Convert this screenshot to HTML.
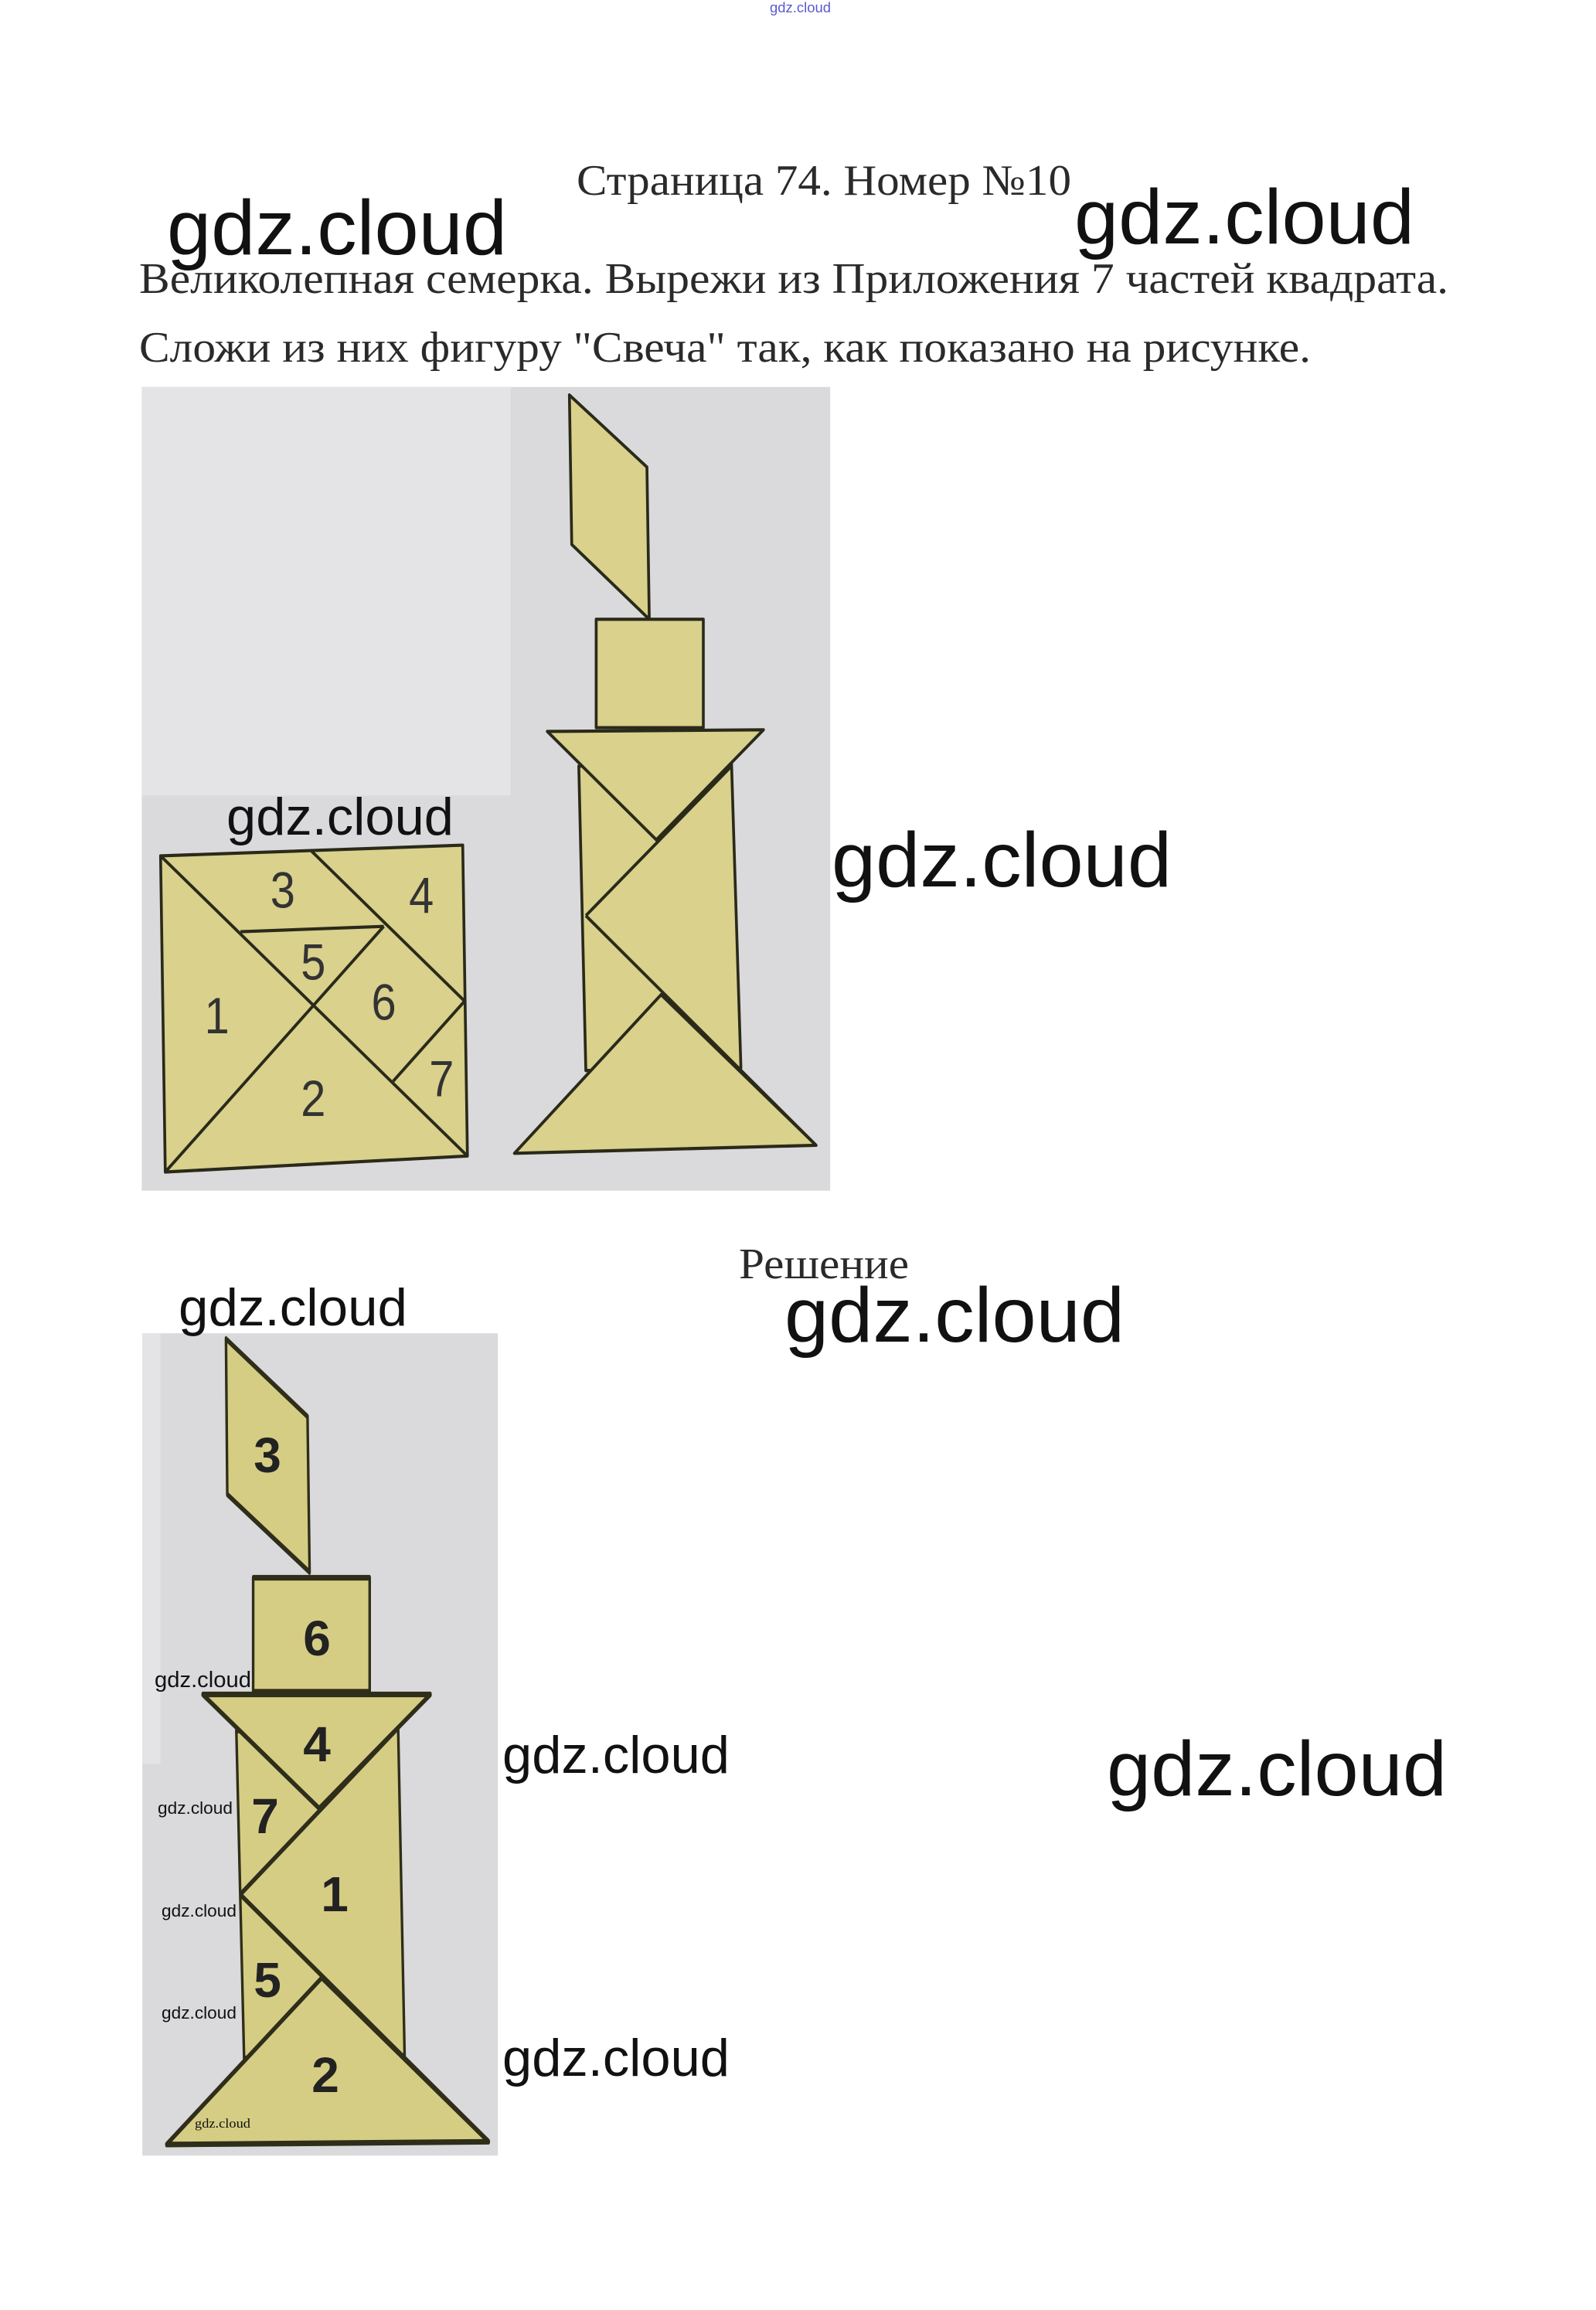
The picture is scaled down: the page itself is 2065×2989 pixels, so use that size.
<!DOCTYPE html>
<html><head><meta charset="utf-8"><style>html,body{margin:0;padding:0;background:#fff}svg{display:block}</style></head>
<body>
<svg width="2065" height="2989" viewBox="0 0 2065 2989" xmlns="http://www.w3.org/2000/svg">
<rect width="2065" height="2989" fill="#fff"/>
<text x="996" y="16" font-family="Liberation Sans, sans-serif" font-size="18" fill="#5a5ad0" textLength="79" lengthAdjust="spacingAndGlyphs">gdz.cloud</text>
<g font-family="Liberation Serif, serif" fill="#2a2a2a">
<text x="746" y="252" font-size="56" textLength="640" lengthAdjust="spacingAndGlyphs">Страница 74. Номер №10</text>
<text x="180" y="379" font-size="56" textLength="1694" lengthAdjust="spacingAndGlyphs">Великолепная семерка. Вырежи из Приложения 7 частей квадрата.</text>
<text x="180" y="468" font-size="56" textLength="1516" lengthAdjust="spacingAndGlyphs">Сложи из них фигуру "Свеча" так, как показано на рисунке.</text>
<text x="956" y="1654" font-size="56" textLength="220" lengthAdjust="spacingAndGlyphs">Решение</text>
</g>

<!-- Top picture -->
<g transform="translate(150,480) scale(0.608,0.691)">
<rect x="55" y="30" width="1465" height="1505" fill="#dadadc"/>
<rect x="55" y="30" width="785" height="765" fill="#e4e4e6"/>
<g fill="#d9d18c" stroke="#2a2a1a" stroke-width="6" stroke-linejoin="round">
<polygon points="95,908 738,888 748,1470 105,1500"/>
<polygon points="965,45 1130,180 1135,465 970,325"/>
<rect x="1022" y="465" width="228" height="203"/>
<polygon points="985,740 1310,735 1330,1305 1000,1310"/>
<polygon points="918,675 1378,672 1150,878"/>
<polygon points="848,1465 1490,1450 1160,1168"/>
</g>
<g stroke="#2a2a1a" stroke-width="6" fill="none">
<line x1="95" y1="908" x2="748" y2="1470"/>
<line x1="105" y1="1500" x2="570" y2="1040"/>
<line x1="415" y1="898" x2="742" y2="1180"/>
<line x1="265" y1="1050" x2="570" y2="1040"/>
<line x1="742" y1="1180" x2="590" y2="1330"/>
<line x1="1310" y1="740" x2="1000" y2="1020"/>
<line x1="1000" y1="1020" x2="1490" y2="1450"/>
</g>
<g font-family="Liberation Sans, sans-serif" font-size="95" fill="#333" text-anchor="middle">
<text x="355" y="1005">3</text><text x="650" y="1015">4</text><text x="420" y="1140">5</text>
<text x="215" y="1240">1</text><text x="570" y="1215">6</text><text x="420" y="1395">2</text><text x="693" y="1358">7</text>
</g>
</g>

<!-- Bottom picture -->
<g transform="translate(150,1700) scale(0.335,0.719)">
<rect x="102" y="35" width="1373" height="1480" fill="#dadadc"/>
<rect x="102" y="35" width="70" height="775" fill="#e4e4e6"/>
<g fill="#d6cd84" stroke="#2e2e1a" stroke-width="10" stroke-linejoin="round">
<polygon points="425,45 740,185 748,465 430,325"/>
<rect x="530" y="475" width="450" height="205"/>
<polygon points="465,750 1090,745 1115,1335 495,1340"/>
<polygon points="335,685 1215,685 785,890"/>
<polygon points="195,1495 1440,1490 795,1195"/>
</g>
<g stroke="#2e2e1a" stroke-width="10" fill="none">
<line x1="1090" y1="745" x2="480" y2="1045"/>
<line x1="480" y1="1045" x2="1440" y2="1490"/>
</g>
</g>
<g font-family="Liberation Sans, sans-serif" font-weight="bold" font-size="64" fill="#222" text-anchor="middle">
<text x="346" y="1905">3</text><text x="410" y="2142">6</text><text x="410" y="2279">4</text><text x="343" y="2372">7</text>
<text x="433" y="2473">1</text><text x="346" y="2584">5</text><text x="421" y="2707">2</text>
</g>
<g font-family="Liberation Sans, sans-serif" fill="#111">
<text x="200" y="2183" font-size="29" textLength="125" lengthAdjust="spacingAndGlyphs">gdz.cloud</text>
<text x="204" y="2347" font-size="22" textLength="97" lengthAdjust="spacingAndGlyphs">gdz.cloud</text>
<text x="209" y="2480" font-size="22" textLength="97" lengthAdjust="spacingAndGlyphs">gdz.cloud</text>
<text x="209" y="2612" font-size="22" textLength="97" lengthAdjust="spacingAndGlyphs">gdz.cloud</text>
<text x="252" y="2753" font-size="17" font-family="Liberation Serif, serif" textLength="72" lengthAdjust="spacingAndGlyphs">gdz.cloud</text>
</g>

<!-- Watermarks -->
<g font-family="Liberation Sans, sans-serif" fill="#111">
<text x="216" y="329" font-size="100" textLength="440" lengthAdjust="spacingAndGlyphs">gdz.cloud</text>
<text x="1390" y="315" font-size="100" textLength="440" lengthAdjust="spacingAndGlyphs">gdz.cloud</text>
<text x="293" y="1080" font-size="68" textLength="294" lengthAdjust="spacingAndGlyphs">gdz.cloud</text>
<text x="1076" y="1147" font-size="100" textLength="440" lengthAdjust="spacingAndGlyphs">gdz.cloud</text>
<text x="1015" y="1736" font-size="100" textLength="440" lengthAdjust="spacingAndGlyphs">gdz.cloud</text>
<text x="231" y="1715" font-size="68" textLength="296" lengthAdjust="spacingAndGlyphs">gdz.cloud</text>
<text x="650" y="2294" font-size="68" textLength="294" lengthAdjust="spacingAndGlyphs">gdz.cloud</text>
<text x="1432" y="2323" font-size="100" textLength="440" lengthAdjust="spacingAndGlyphs">gdz.cloud</text>
<text x="650" y="2686" font-size="68" textLength="294" lengthAdjust="spacingAndGlyphs">gdz.cloud</text>
</g>
</svg>
</body></html>
